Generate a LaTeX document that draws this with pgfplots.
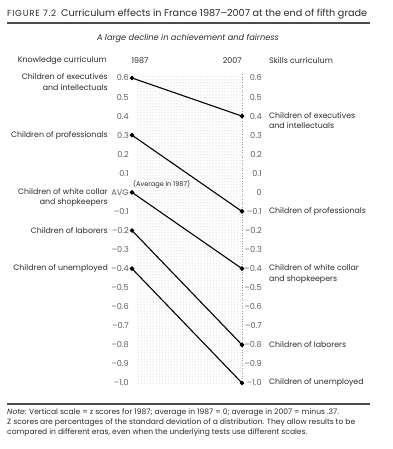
\documentclass[border=0pt]{standalone}
\usepackage{pgfplots}
\pgfplotsset{compat=1.18}
\usetikzlibrary{patterns}
\usepackage{fontspec}
\setmainfont{Poppins}
\definecolor{txt}{HTML}{2A2A2A}
\definecolor{tck}{HTML}{5E5E5E}
\newlength\tmpw
\newcommand\fitsize[3]{\settowidth\tmpw{\fontsize{10}{12}\selectfont #2}\pgfmathsetmacro#1{10*#3/\tmpw}}
\begin{document}%
\fitsize\sztitle{Curriculum effects in France 1987–2007 at the end of fifth grade}{306}%
\fitsize\szfig{\addfontfeature{LetterSpace=8}FIGURE 7.2}{49}%
\fitsize\szsub{\itshape A large decline in achievement and fairness}{182}%
\fitsize\szhead{Knowledge curriculum}{89}%
\fitsize\szlab{Children of executives}{86}%
\fitsize\sztick{0.6}{12}%
\fitsize\sznoteA{\itshape Note:\upshape\ Vertical scale = z scores for 1987; average in 1987 = 0; average in 2007 = minus .37.}{358}%
\fitsize\sznoteB{Z scores are percentages of the standard deviation of a distribution. They allow results to be}{348}%
\pgfmathsetmacro\sznote{min(\sznoteA,\sznoteB)}%
\fitsize\szavg{(Average in 1987)}{57}%
\begin{tikzpicture}[x=1pt,y=1pt]
\tikzset{lab/.style={font=\fontsize{\szlab}{10.6}\selectfont, text=txt, inner sep=0pt}}
\useasboundingbox (0,0) rectangle (392,449);
% title
\node[anchor=base west, inner sep=0, text=txt] at (7,432.5) {{\fontsize{\szfig}{8}\selectfont\addfontfeature{LetterSpace=8}FIGURE 7.2}\hspace{5pt}{\fontsize{\sztitle}{11}\selectfont Curriculum effects in France 1987–2007 at the end of fifth grade}};
\fill[black!70] (7,425.3) rectangle (370,426.8);
\node[text=txt, inner sep=0, font=\fontsize{\szsub}{9}\selectfont\itshape] at (188,411) {A large decline in achievement and fairness};
% headers
\begin{scope}[every node/.style={text=txt, inner sep=0, font=\fontsize{\szhead}{9}\selectfont}]
\node[anchor=east] at (107,388) {Knowledge curriculum};
\node at (140,388) {1987};
\node[anchor=east] at (242,388) {2007};
\node[anchor=west] at (269,388) {Skills curriculum};
\end{scope}
\begin{axis}[
  at={(132pt,66pt)}, anchor=south west,
  scale only axis, width=110pt, height=305pt,
  xmin=0, xmax=1, ymin=-1, ymax=0.6,
  axis line style={draw=none}, xtick=\empty,
  ytick={-1,-0.9,-0.8,-0.7,-0.6,-0.5,-0.4,-0.3,-0.2,-0.1,0,0.1,0.2,0.3,0.4,0.5,0.6},
  yticklabels={–1.0,–0.9,–0.8,–0.7,–0.6,–0.5,–0.4,–0.3,–0.2,–0.1,AVG,0.1,0.2,0.3,0.4,0.5,0.6},
  major tick length=0pt,
  yticklabel style={font=\fontsize{\sztick}{8}\selectfont, text=tck, inner sep=0pt, xshift=-3pt, anchor=east},
  clip=false,
]
\fill[pattern=dots, pattern color=black!28] (axis cs:0.045,0.615) rectangle (axis cs:1,-1.01);
\draw[black!40, dotted, line width=0.6pt] (axis cs:1,0.62) -- (axis cs:1,-1.0);
\addplot[black, line width=1.1pt, mark=*, mark size=1.7pt] coordinates {(0,0.6) (1,0.4)};
\addplot[black, line width=1.1pt, mark=*, mark size=1.7pt] coordinates {(0,0.3) (1,-0.1)};
\addplot[black, line width=1.1pt, mark=*, mark size=1.7pt] coordinates {(0,0) (1,-0.4)};
\addplot[black, line width=1.1pt, mark=*, mark size=1.7pt] coordinates {(0,-0.2) (1,-0.8)};
\addplot[black, line width=1.1pt, mark=*, mark size=1.7pt] coordinates {(0,-0.4) (1,-1.0)};
% left labels
\node[lab, anchor=north east, align=right, xshift=-24pt, yshift=4.2pt] at (axis cs:0,0.6) {Children of executives\\and intellectuals};
\node[lab, anchor=east, xshift=-24pt] at (axis cs:0,0.3) {Children of professionals};
\node[lab, anchor=north east, align=right, xshift=-24pt, yshift=4.2pt] at (axis cs:0,0) {Children of white collar\\and shopkeepers};
\node[lab, anchor=east, xshift=-24pt] at (axis cs:0,-0.2) {Children of laborers};
\node[lab, anchor=east, xshift=-24pt] at (axis cs:0,-0.4) {Children of unemployed};
% right labels
\node[lab, anchor=north west, align=left, xshift=27pt, yshift=4.2pt] at (axis cs:1,0.4) {Children of executives\\and intellectuals};
\node[lab, anchor=west, xshift=27pt] at (axis cs:1,-0.1) {Children of professionals};
\node[lab, anchor=north west, align=left, xshift=27pt, yshift=4.2pt] at (axis cs:1,-0.4) {Children of white collar\\and shopkeepers};
\node[lab, anchor=west, xshift=27pt] at (axis cs:1,-0.8) {Children of laborers};
\node[lab, anchor=west, xshift=27pt] at (axis cs:1,-1.0) {Children of unemployed};
\node[font=\fontsize{\szavg}{7}\selectfont, text=txt, inner sep=0pt, anchor=west, xshift=1pt, yshift=8.5pt] at (axis cs:0,0) {(Average in 1987)};
\end{axis}
\begin{axis}[
  at={(132pt,66pt)}, anchor=south west,
  scale only axis, width=110pt, height=305pt,
  xmin=0, xmax=1, ymin=-1, ymax=0.6,
  axis line style={draw=none}, xtick=\empty,
  yticklabel pos=right,
  ytick={-1,-0.9,-0.8,-0.7,-0.6,-0.5,-0.4,-0.3,-0.2,-0.1,0,0.1,0.2,0.3,0.4,0.5,0.6},
  yticklabels={–1.0,–0.9,–0.8,–0.7,–0.6,–0.5,–0.4,–0.3,–0.2,–0.1,0,0.1,0.2,0.3,0.4,0.5,0.6},
  major tick length=0pt,
  yticklabel style={font=\fontsize{\sztick}{8}\selectfont, text=tck, inner sep=0pt, xshift=20pt, anchor=east},
]
\end{axis}
\fill[black!70] (7,44.3) rectangle (370,45.6);
\node[anchor=north west, align=left, inner sep=0, text=txt, font=\fontsize{\sznote}{9.6}\selectfont] at (7,40) {\textit{Note:} Vertical scale = z scores for 1987; average in 1987 = 0; average in 2007 = minus .37.\\Z scores are percentages of the standard deviation of a distribution. They allow results to be\\compared in different eras, even when the underlying tests use different scales.};
\end{tikzpicture}%
\end{document}
